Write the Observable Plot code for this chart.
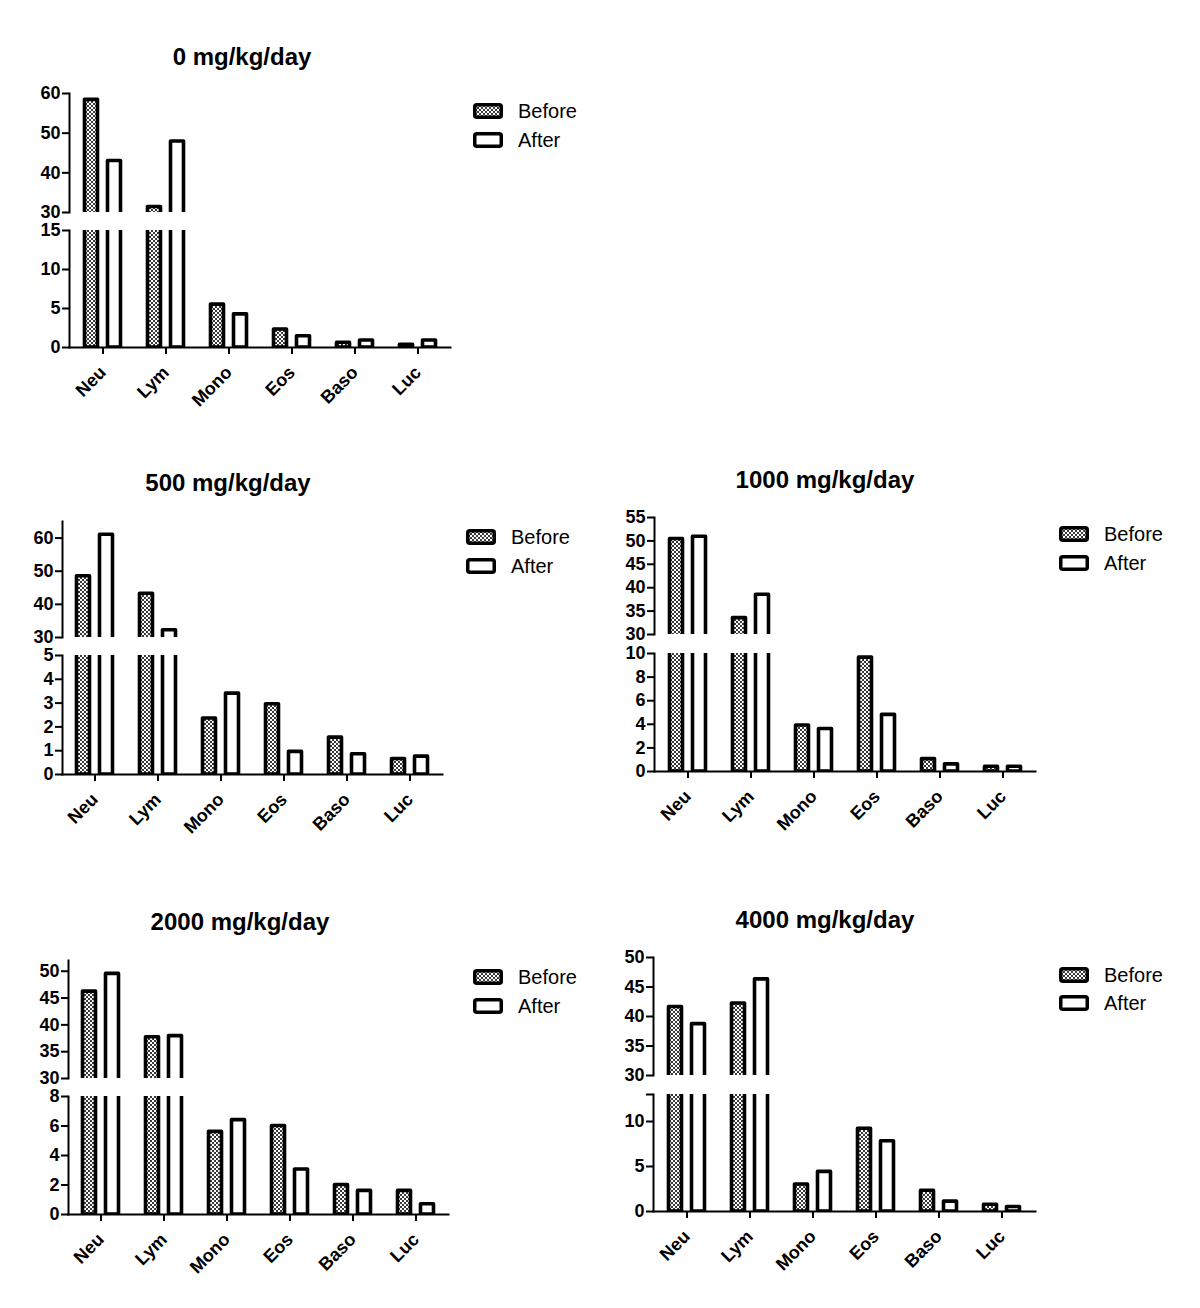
<!DOCTYPE html>
<html><head><meta charset="utf-8">
<script src="https://cdn.jsdelivr.net/npm/d3@7"></script>
<script src="https://cdn.jsdelivr.net/npm/@observablehq/plot@0.6"></script>
<style>
body{margin:0;background:#fff;}
#root{position:relative;width:1200px;height:1308px;overflow:hidden;font-family:"Liberation Sans",Arial,sans-serif;color:#000;}
.title{position:absolute;font-weight:bold;font-size:24px;transform:translate(-50%,-50%);white-space:nowrap;}
.leg{position:absolute;font-size:20px;display:flex;align-items:center;height:24px;white-space:nowrap;}
.leg span{margin-left:15px;}
.abs{position:absolute;}
</style></head><body>
<svg width="0" height="0" style="position:absolute">
  <defs>
    <pattern id="chk" patternUnits="userSpaceOnUse" width="4" height="4">
      <rect width="4" height="4" fill="#fff"/>
      <rect x="0" y="0" width="2" height="2" fill="#3a3a3a"/>
      <rect x="2" y="2" width="2" height="2" fill="#3a3a3a"/>
    </pattern>
  </defs>
</svg>
<div id="root"></div>
<script>
// ---- data ----
const categories = ["Neu", "Lym", "Mono", "Eos", "Baso", "Luc"];
const doses = ["0 mg/kg/day", "500 mg/kg/day", "1000 mg/kg/day", "2000 mg/kg/day", "4000 mg/kg/day"];
const groups = ["Before", "After"];

const before0    = [58.4, 31.4, 5.5, 2.3, 0.6, 0.35];
const after0     = [43.0, 47.9, 4.25, 1.45, 0.9, 0.9];
const before500  = [48.5, 43.2, 2.35, 2.95, 1.55, 0.65];
const after500   = [61.0, 32.2, 3.4, 0.95, 0.85, 0.75];
const before1000 = [50.4, 33.5, 3.9, 9.65, 1.05, 0.4];
const after1000  = [50.9, 38.5, 3.6, 4.8, 0.6, 0.4];
const before2000 = [46.2, 37.7, 5.6, 6.0, 2.0, 1.6];
const after2000  = [49.5, 37.9, 6.4, 3.05, 1.6, 0.7];
const before4000 = [41.6, 42.2, 3.0, 9.2, 2.3, 0.75];
const after4000  = [38.7, 46.3, 4.4, 7.8, 1.1, 0.5];

const beforeSeries = [before0, before500, before1000, before2000, before4000];
const afterSeries  = [after0, after500, after1000, after2000, after4000];

const upperDomains = [[30, 60], [30, 65], [30, 55], [30, 52], [30, 50]];
const lowerDomains = [[0, 15], [0, 5], [0, 10], [0, 8], [0, 13]];
const upperTicks = [[30, 40, 50, 60], [30, 40, 50, 60], [30, 35, 40, 45, 50, 55], [30, 35, 40, 45, 50], [30, 35, 40, 45, 50]];
const lowerTicks = [[0, 5, 10, 15], [0, 1, 2, 3, 4, 5], [0, 2, 4, 6, 8, 10], [0, 2, 4, 6, 8], [0, 5, 10, 13]];
const lowerLabelled = [[0, 5, 10, 15], [0, 1, 2, 3, 4, 5], [0, 2, 4, 6, 8, 10], [0, 2, 4, 6, 8], [0, 5, 10]];

// ---- layout (pixels) ----
const layout = [
  {xl: 69,  xr: 450,  ut: 93,  ub: 212,  lt: 230,  lb: 347,  tx: 242, ty: 57,  lx: 473,  ly: 111, gap: 29},
  {xl: 62,  xr: 442,  ut: 521, ub: 637,  lt: 655,  lb: 774,  tx: 228, ty: 483, lx: 466,  ly: 537, gap: 29},
  {xl: 654, xr: 1035, ut: 517, ub: 634,  lt: 653,  lb: 771,  tx: 825, ty: 480, lx: 1059, ly: 534, gap: 29},
  {xl: 68,  xr: 448,  ut: 960, ub: 1078, lt: 1096, lb: 1214, tx: 240, ty: 922, lx: 473,  ly: 977, gap: 29},
  {xl: 653, xr: 1035, ut: 957, ub: 1075, lt: 1094, lb: 1211, tx: 825, ty: 920, lx: 1059, ly: 975, gap: 28}
];

const root = document.getElementById("root");
const FONT = '"Liberation Sans", Arial, sans-serif';

function segment(i, isLower) {
  const L = layout[i];
  const top = isLower ? L.lt : L.ut;
  const bottom = isLower ? L.lb : L.ub;
  const mL = 44, mR = 14, mT = 10, mB = isLower ? 90 : 10;
  const dom = isLower ? lowerDomains[i] : upperDomains[i];
  const rows = categories.flatMap((c, j) => [
    {cat: c, group: "Before", value: beforeSeries[i][j]},
    {cat: c, group: "After", value: afterSeries[i][j]}
  ]);
  const shown = isLower ? rows : rows.filter(d => d.value > dom[0]);
  const base = isLower ? 0 : dom[0] - (dom[1] - dom[0]) * 0.1;
  const labelled = isLower ? lowerLabelled[i] : upperTicks[i];
  const barOpts = {x: "cat", y1: () => base, y2: "value", stroke: "#000", strokeWidth: 3.6, strokeLinejoin: "round", clip: true};
  const marks = [
    Plot.barY(shown.filter(d => d.group === "Before"), {...barOpts, fill: "url(#chk)", insetLeft: 13.5, insetRight: 36.5}),
    Plot.barY(shown.filter(d => d.group === "After"), {...barOpts, fill: "#fff", insetLeft: 36.5, insetRight: 13.5}),
    Plot.axisY({ticks: isLower ? lowerTicks[i] : upperTicks[i], tickSize: 7, tickPadding: 2, strokeWidth: 2,
      fontSize: 18, fontWeight: "bold", label: null,
      tickFormat: d => labelled.includes(d) ? String(d) : ""}),
    Plot.frame({anchor: "left", strokeWidth: 2})
  ];
  if (isLower) {
    marks.push(Plot.axisX({tickRotate: -45, tickSize: 7, tickPadding: 15, strokeWidth: 2, fontSize: 18, fontWeight: "bold", label: null}));
    marks.push(Plot.frame({anchor: "bottom", strokeWidth: 2}));
  }
  const chart = Plot.plot({
    width: L.xr - L.xl + mL + mR,
    height: bottom - top + mT + mB,
    marginLeft: mL, marginRight: mR, marginTop: mT, marginBottom: mB,
    x: {type: "band", domain: categories, padding: 0, axis: isLower ? undefined : null},
    y: {domain: dom},
    style: {fontFamily: FONT, fontWeight: "bold", fontSize: "18px", color: "#000", background: "transparent", overflow: "visible"},
    marks
  });
  chart.classList.add("abs");
  chart.style.left = (L.xl - mL) + "px";
  chart.style.top = (top - mT) + "px";
  root.appendChild(chart);
}

function legend(i) {
  const L = layout[i];
  groups.forEach((g, k) => {
    const div = document.createElement("div");
    div.className = "leg";
    div.style.left = L.lx + "px";
    div.style.top = (L.ly + k * L.gap - 12) + "px";
    const fill = g === "Before" ? "url(#chk)" : "#fff";
    div.innerHTML = `<svg width="30" height="16"><rect x="1.75" y="1.75" width="26.5" height="12.5" rx="2" fill="${fill}" stroke="#000" stroke-width="3.5"/></svg><span>${g}</span>`;
    root.appendChild(div);
  });
}

doses.forEach((dose, i) => {
  const t = document.createElement("div");
  t.className = "title";
  t.textContent = dose;
  t.style.left = layout[i].tx + "px";
  t.style.top = layout[i].ty + "px";
  root.appendChild(t);
  segment(i, false);
  segment(i, true);
  legend(i);
});
</script>
</body></html>
